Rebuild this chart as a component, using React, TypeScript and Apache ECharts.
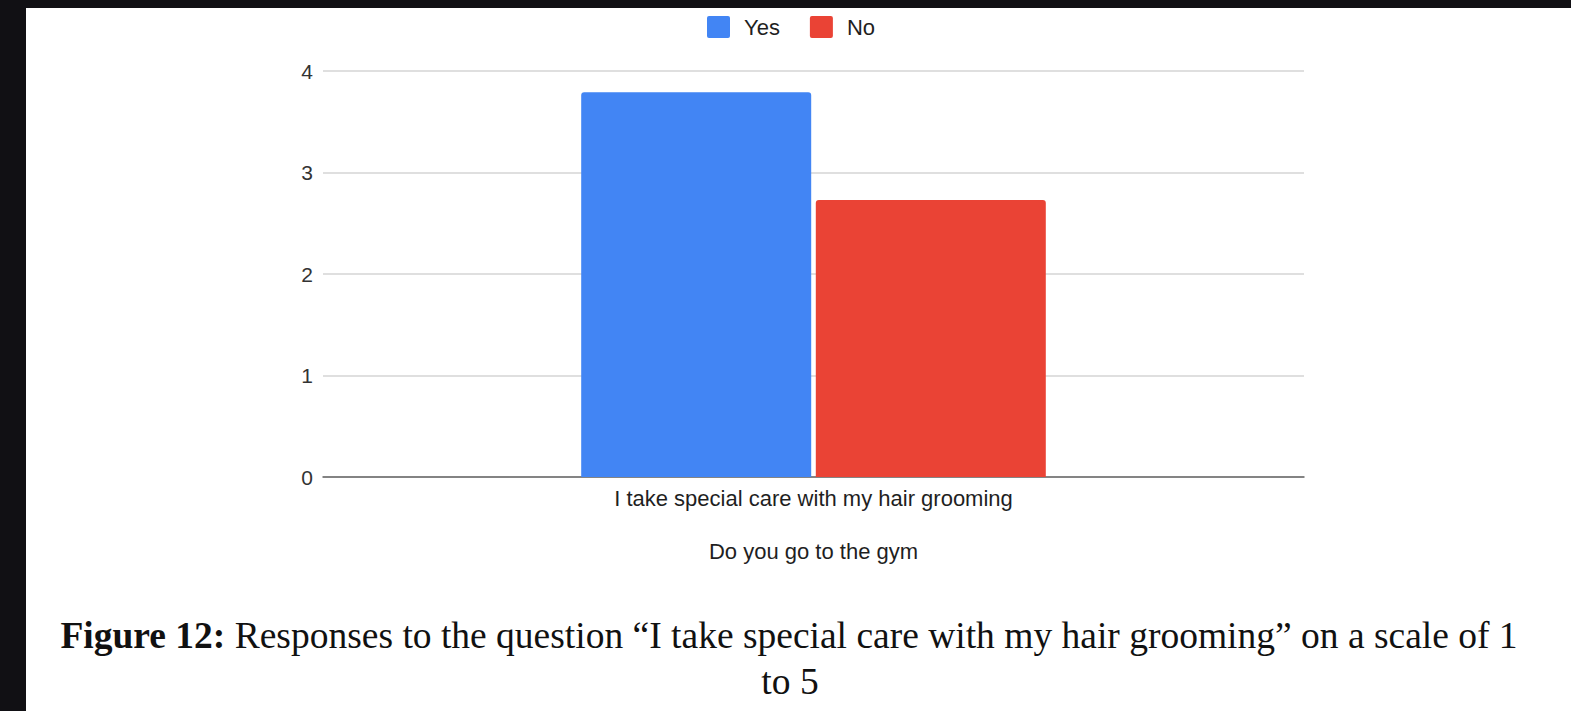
import React, { useEffect, useRef } from "react";
import * as echarts from "echarts";

// Survey results: mean response (scale 1–5) split by gym attendance
const categories = ["I take special care with my hair grooming"];
const seriesNames = ["Yes", "No"];
const yesValues = [3.79];
const noValues = [2.73];
const yTicks = [0, 1, 2, 3, 4];

const captionBold = "Figure 12:";
const captionLine1 = " Responses to the question \u201cI take special care with my hair grooming\u201d on a scale of 1";
const captionLine2 = "to 5";

const SANS = "'Liberation Sans', Arial, sans-serif";
const SERIF = "'Liberation Serif', 'Times New Roman', serif";

// Slightly rounded square swatch for the legend
const SWATCH = "path://M2,0 H21 Q23,0 23,2 V20 Q23,22 21,22 H2 Q0,22 0,20 V2 Q0,0 2,0 Z";

export default function App() {
  const ref = useRef<HTMLDivElement>(null);

  useEffect(() => {
    if (!ref.current) return;
    const chart = echarts.init(ref.current, undefined, { renderer: "svg" });
    chart.setOption({
      animation: false,
      backgroundColor: "transparent",
      color: ["#4285f4", "#ea4335"],
      legend: {
        data: seriesNames,
        left: 707,
        top: 16,
        padding: 0,
        itemWidth: 23,
        itemHeight: 22,
        itemGap: 30,
        icon: SWATCH,
        textStyle: { fontFamily: SANS, fontSize: 22, color: "#1f1f1f", padding: [0, 0, 0, 9] },
      },
      grid: { left: 323, right: 267, top: 71, bottom: 234, containLabel: false },
      xAxis: {
        type: "category",
        data: categories,
        name: "Do you go to the gym",
        nameLocation: "middle",
        nameGap: 63,
        nameTextStyle: { fontFamily: SANS, fontSize: 22, color: "#1f1f1f" },
        axisLine: { show: true, lineStyle: { color: "#666", width: 1.5 } },
        axisTick: { show: false },
        axisLabel: { fontFamily: SANS, fontSize: 22, color: "#1f1f1f", margin: 10 },
      },
      yAxis: {
        type: "value",
        min: yTicks[0],
        max: yTicks[yTicks.length - 1],
        interval: 1,
        axisLine: { show: false },
        axisTick: { show: false },
        axisLabel: { fontFamily: SANS, fontSize: 21, color: "#333", margin: 10 },
        splitLine: { lineStyle: { color: "#d4d4d4", width: 1.5 } },
      },
      series: [
        {
          name: seriesNames[0],
          type: "bar",
          data: yesValues,
          barWidth: 230,
          barGap: "2%",
          itemStyle: { borderRadius: [3, 3, 0, 0] },
        },
        {
          name: seriesNames[1],
          type: "bar",
          data: noValues,
          barWidth: 230,
          barGap: "2%",
          itemStyle: { borderRadius: [3, 3, 0, 0] },
        },
      ],
      graphic: [
        {
          type: "text",
          x: 789,
          y: 635,
          style: {
            text: `{b|${captionBold}}{r|${captionLine1}}`,
            align: "center",
            verticalAlign: "middle",
            fill: "#111",
            rich: {
              b: { fontFamily: SERIF, fontSize: 37.5, fontWeight: "bold", fill: "#111" },
              r: { fontFamily: SERIF, fontSize: 37.5, fill: "#111" },
            },
          },
        },
        {
          type: "text",
          x: 790,
          y: 681,
          style: {
            text: captionLine2,
            align: "center",
            verticalAlign: "middle",
            fontFamily: SERIF,
            fontSize: 37.5,
            fill: "#111",
          },
        },
      ],
    });
    return () => chart.dispose();
  }, []);

  return (
    <div style={{ position: "fixed", left: 0, top: 0, width: 1571, height: 711, background: "#111014" }}>
      <div style={{ position: "absolute", left: 26, top: 8, width: 1545, height: 703, background: "#ffffff" }} />
      <div ref={ref} style={{ position: "absolute", left: 0, top: 0, width: 1571, height: 711 }} />
    </div>
  );
}
